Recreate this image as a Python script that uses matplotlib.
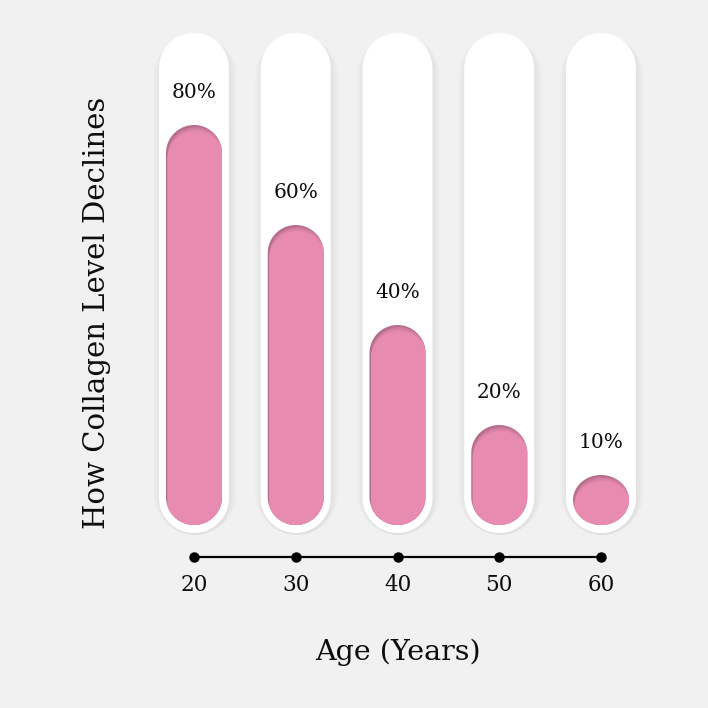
import numpy as np
import matplotlib.pyplot as plt
from matplotlib.patches import Polygon

ages = ["20", "30", "40", "50", "60"]
levels = [80, 60, 40, 20, 10]
labels = ["80%", "60%", "40%", "20%", "10%"]

bg = "#f1f1f1"
pink = "#e88bb0"
pink_dark = "#b46e8c"

# pixel scale of one data unit (x: one category, y: one percent)
sx, sy = 101.75, 5.0


def capsule(xc, y0, y1, wpx, dx_px=0, dy_px=0):
    hw = wpx / 2 / sx
    r_y = wpx / 2 / sy
    xc = xc + dx_px / sx
    y0 = y0 - dy_px / sy
    y1 = y1 - dy_px / sy
    t = np.linspace(0, np.pi, 40)
    if y1 - y0 >= 2 * r_y:
        top = np.column_stack([xc + hw * np.cos(t), y1 - r_y + r_y * np.sin(t)])
        bot = np.column_stack([xc - hw * np.cos(t), y0 + r_y - r_y * np.sin(t)])
        pts = np.vstack([top, bot])
    else:
        ry = (y1 - y0) / 2
        tt = np.linspace(0, 2 * np.pi, 80)
        pts = np.column_stack([xc + hw * np.cos(tt), (y0 + y1) / 2 + ry * np.sin(tt)])
    return pts


fig = plt.figure(figsize=(7.08, 7.08), dpi=100, facecolor=bg)
ax = fig.add_axes([0, 0, 1, 1])
ax.set_facecolor(bg)
ax.set_xlim(-194 / sx, (708 - 194) / sx)
ax.set_ylim((525 - 708) / sy, 525 / sy)
ax.axis("off")

track_top, track_bot = 98.4, -1.6

for i, (v, lab) in enumerate(zip(levels, labels)):
    # soft shadow of the white track
    for k in range(8):
        ax.add_patch(Polygon(capsule(i, track_bot, track_top, 70 + 2 * k, 1, 2),
                             closed=True, facecolor="black", alpha=0.008, lw=0))
    ax.add_patch(Polygon(capsule(i, track_bot, track_top, 70), closed=True,
                         facecolor="white", lw=0))

    # pink bar with an inner shadow on top
    bar = Polygon(capsule(i, 0, v, 56), closed=True, facecolor=pink_dark, lw=0)
    ax.add_patch(bar)
    for k, a in [(2, 0.45), (4, 0.6), (6, 1.0)]:
        p = Polygon(capsule(i, 0, v, 56, 1.5, k), closed=True,
                    facecolor=pink, alpha=a, lw=0)
        ax.add_patch(p)
        p.set_clip_path(bar)

    ax.text(i, v + 6.4, lab, ha="center", va="center", fontsize=14.5,
            family="DejaVu Serif", color="#0d0d0d")

x = np.arange(len(ages))
ax.plot(x, [-6.4] * len(x), color="black", lw=1.6, marker="o", ms=6.5)
for i, a in enumerate(ages):
    ax.text(i, -12, a, ha="center", va="center", fontsize=15.5,
            family="DejaVu Serif", color="#0d0d0d")

ax.text(2, -25.4, "Age (Years)", ha="center", va="center", fontsize=20.5,
        family="DejaVu Serif", color="#0d0d0d")
ax.text(-0.953, 42.5, "How Collagen Level Declines", ha="center", va="center",
        rotation=90, fontsize=21, family="DejaVu Serif", color="#0d0d0d")

fig.savefig("out.png", dpi=100, facecolor=bg)
